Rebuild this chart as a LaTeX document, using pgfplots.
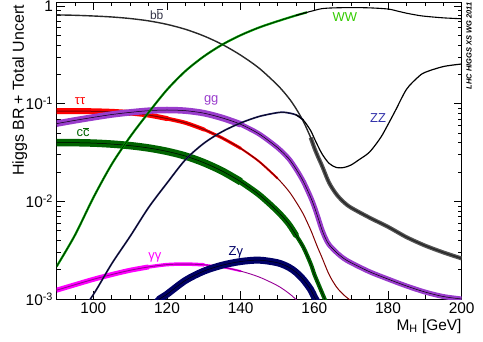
\documentclass[border=0pt]{standalone}
\usepackage{fontspec}
\setmainfont{Liberation Sans}
\usepackage{pgfplots}
\pgfplotsset{compat=1.18}
\usepackage{pgfplotstable}

\definecolor{ttred}{RGB}{255,0,0}
\definecolor{ttdark}{RGB}{128,0,0}
\definecolor{ggpurple}{RGB}{153,60,204}
\definecolor{ccgreen}{RGB}{0,100,0}
\definecolor{aamag}{RGB}{255,0,255}
\definecolor{aadark}{RGB}{150,0,150}
\definecolor{zanavy}{RGB}{0,0,102}
\definecolor{wwgreen}{RGB}{0,160,0}
\definecolor{wwlabel}{RGB}{51,204,0}
\definecolor{zznavy}{RGB}{30,30,95}
\definecolor{zzlabel}{RGB}{51,51,170}
\definecolor{bbgray}{RGB}{85,85,85}
\definecolor{bbline}{RGB}{40,40,40}
\definecolor{bblabel}{RGB}{50,50,70}

\newcommand{\obar}[1]{{\setbox0\hbox{#1}\rlap{\rule[\dimexpr\ht0+1pt\relax]{\wd0}{0.6pt}}\box0}}

\pgfplotstableread{
m v
90 0.812
95 0.804
100 0.791
105 0.773
110 0.745
115 0.705
120 0.649
125 0.578
130 0.494
135 0.404
140 0.314
145 0.231
150 0.155
153 0.115
155 0.0894
157 0.066
159 0.045
160 0.0352
161 0.0285
162 0.0235
164 0.0155
166 0.0118
168 0.0098
170 0.0086
175 0.0068
180 0.00548
185 0.00430
190 0.00353
195 0.00300
200 0.00260
}\bbdata

\pgfplotstableread{
m v
90 0.0841
95 0.0841
100 0.0836
105 0.0825
110 0.0803
115 0.0765
120 0.0704
125 0.0637
130 0.0545
135 0.0445
140 0.0349
145 0.0256
150 0.0172
153 0.0128
155 0.00991
157 0.0074
159 0.0051
160 0.0041
161 0.0033
162 0.0027
164 0.00178
166 0.00133
168 0.00110
170 0.00096
172 0.00088
175 0.00077
}\ttdata

\pgfplotstableread{
m v
90 0.0400
95 0.0399
100 0.0395
105 0.0386
110 0.0372
115 0.0352
120 0.0325
125 0.0291
130 0.0249
135 0.0204
140 0.0159
145 0.0117
150 0.0079
153 0.0059
155 0.00452
157 0.0034
159 0.0023
160 0.00179
161 0.00145
162 0.00118
164 0.00079
166 0.00060
}\ccdata

\pgfplotstableread{
m v
90 0.0625
95 0.0675
100 0.0725
105 0.0775
110 0.0815
115 0.0848
120 0.0862
125 0.0848
130 0.0800
135 0.0715
140 0.0615
145 0.0490
150 0.0355
153 0.0275
155 0.0215
157 0.0160
159 0.0110
160 0.0088
161 0.0068
162 0.0052
163 0.0042
164 0.0036
166 0.0030
168 0.0026
170 0.00235
175 0.00190
180 0.00160
185 0.00136
190 0.00118
195 0.00106
200 0.00100
}\ggdata

\pgfplotstableread{
m v
90 0.00123
95 0.00140
100 0.00159
105 0.00178
110 0.00197
115 0.00213
120 0.00225
125 0.00228
130 0.00224
135 0.00212
140 0.00193
145 0.00168
150 0.00137
153 0.00115
155 0.00099
157 0.00080
}\aadata

\pgfplotstableread{
m v
117 0.00090
118 0.00100
120 0.00112
125 0.00155
130 0.00193
135 0.00222
140 0.00242
145 0.00250
150 0.00235
153 0.00212
155 0.00188
157 0.00158
159 0.00125
160 0.00105
161 0.00090
162 0.00076
}\zadata

\pgfplotstableread{
m v
90 0.00214
95 0.0045
100 0.0109
105 0.0240
110 0.0459
115 0.0812
120 0.139
125 0.216
130 0.305
135 0.403
140 0.503
145 0.603
150 0.699
155 0.801
158 0.862
160 0.902
162 0.940
165 0.957
170 0.964
175 0.958
180 0.932
183 0.880
185 0.845
188 0.805
190 0.786
195 0.757
200 0.741
}\wwdata

\pgfplotstableread{
m v
90 0.000425
95 0.00060
100 0.00111
105 0.00230
110 0.00439
115 0.00865
120 0.0154
125 0.0267
130 0.0393
135 0.0518
140 0.0635
145 0.0740
150 0.0810
152 0.0815
155 0.0770
157 0.0680
159 0.0530
160 0.0440
162 0.0310
164 0.0245
166 0.0222
168 0.0222
170 0.0236
172 0.0265
175 0.0320
178 0.0450
180 0.0613
182 0.0850
185 0.1400
188 0.1850
190 0.2090
195 0.2400
200 0.2550
}\zzdata

\begin{document}
\begin{tikzpicture}
\begin{axis}[
  scale only axis, width=405.2bp, height=297bp,
  at={(0,0)}, anchor=south west,
  xmin=90, xmax=200, ymode=log, ymin=1e-3, ymax=1.1,
  xtick={100,120,140,160,180,200},
  xticklabels={100,120,140,160,180,200},
  minor xtick={95,105,110,115,125,130,135,145,150,155,165,170,175,185,190,195},
  ytick={0.001,0.01,0.1,1},
  yticklabels={10\textsuperscript{-3},10\textsuperscript{-2},10\textsuperscript{-1},1},
  minor ytick={0.002,0.003,0.004,0.005,0.006,0.007,0.008,0.009,0.02,0.03,0.04,0.05,0.06,0.07,0.08,0.09,0.2,0.3,0.4,0.5,0.6,0.7,0.8,0.9},
  tick align=inside, tick pos=both,
  major tick length=8bp, minor tick length=4bp,
  tick style={black, line width=0.6bp},
  axis line style={line width=0.8bp},
  ticklabel style={font=\fontsize{15.5}{15.5}\selectfont},
  /pgf/number format/assume math mode=true,
  every axis plot/.append style={smooth},
]
% bb
\addplot[bbgray, line width=4bp, restrict x to domain=158:200] table {\bbdata};
\addplot[bbline, line width=1.4bp] table {\bbdata};
% tau tau
\addplot[ttred, line width=6bp, restrict x to domain=90:112] table {\ttdata};
\addplot[ttred, line width=5bp, line cap=round, restrict x to domain=110:122] table {\ttdata};
\addplot[ttred, line width=4bp, line cap=round, restrict x to domain=120:130] table {\ttdata};
\addplot[ttred, line width=3bp, line cap=round, restrict x to domain=130:142] table {\ttdata};
\addplot[ttred, line width=2bp, line cap=round, restrict x to domain=140:150] table {\ttdata};
\addplot[ttdark, line width=1bp] table {\ttdata};
% cc
\addplot[ccgreen, line width=7.5bp, restrict x to domain=90:140] table {\ccdata};
\addplot[ccgreen, line width=6bp, line cap=round, restrict x to domain=140:155] table {\ccdata};
\addplot[ccgreen, line width=4bp, line cap=round, restrict x to domain=155:166] table {\ccdata};
\addplot[black, line width=0.5bp] table {\ccdata};
% gg
\addplot[ggpurple, line width=6.5bp, restrict x to domain=90:140] table {\ggdata};
\addplot[ggpurple, line width=5bp, line cap=round, restrict x to domain=140:200] table {\ggdata};
\addplot[black, line width=0.5bp] table {\ggdata};
% gamma gamma
\addplot[aamag, line width=5bp, restrict x to domain=90:115] table {\aadata};
\addplot[aamag, line width=3.5bp, line cap=round, restrict x to domain=115:130] table {\aadata};
\addplot[aamag, line width=2bp, line cap=round, restrict x to domain=130:140] table {\aadata};
\addplot[aadark, line width=0.9bp] table {\aadata};
% Z gamma
\addplot[zanavy, line width=7bp] table {\zadata};
\addplot[black, line width=0.5bp] table {\zadata};
% WW
\addplot[wwgreen, line width=2.2bp, restrict x to domain=90:158] table {\wwdata};
\addplot[black, line width=0.5bp, restrict x to domain=90:158] table {\wwdata};
\addplot[black, line width=1.1bp, restrict x to domain=155:200] table {\wwdata};
% ZZ
\addplot[zznavy, line width=1.7bp, restrict x to domain=95:158] table {\zzdata};
\addplot[black, line width=0.4bp, restrict x to domain=95:158] table {\zzdata};
\addplot[black, line width=1.2bp, restrict x to domain=155:200] table {\zzdata};

% labels
\node[font=\fontsize{12}{12}\selectfont, text=bblabel] at (axis cs:117.2,0.826) {b\obar{b}};
\node[font=\fontsize{13}{13}\selectfont, text=wwlabel] at (axis cs:168.3,0.769) {WW};
\node[font=\fontsize{13}{13}\selectfont, text=zzlabel] at (axis cs:177.3,0.0713) {ZZ};
\node[font=\fontsize{13}{13}\selectfont, text=ttred] at (axis cs:96.4,0.106) {ττ};
\node[font=\fontsize{13}{13}\selectfont, text=ggpurple] at (axis cs:132,0.109) {gg};
\node[font=\fontsize{13}{13}\selectfont, text=ccgreen] at (axis cs:97.2,0.0512) {c\obar{c}};
\node[font=\fontsize{13}{13}\selectfont, text=aamag] at (axis cs:116.7,0.00269) {γγ};
\node[font=\fontsize{13}{13}\selectfont, text=zanavy] at (axis cs:138.7,0.00303) {Zγ};
\end{axis}
\node[rotate=90, anchor=east, inner sep=0pt, font=\fontsize{7.5}{7.5}\selectfont\bfseries\itshape]
  at (412.5bp,296.5bp) {LHC HIGGS XS WG 2011};
\node[rotate=90, anchor=east, inner sep=0pt, font=\fontsize{16}{16}\selectfont]
  at (-36.8bp,294bp) {Higgs BR + Total Uncert};
\node[anchor=base east, inner sep=0pt, font=\fontsize{15.5}{15.5}\selectfont]
  at (405.2bp,-31.5bp) {M\textsubscript{H} [GeV]};
\pgfresetboundingbox
\path (-56.5bp,-43bp) rectangle (426.5bp,299bp);
\end{tikzpicture}
\end{document}
